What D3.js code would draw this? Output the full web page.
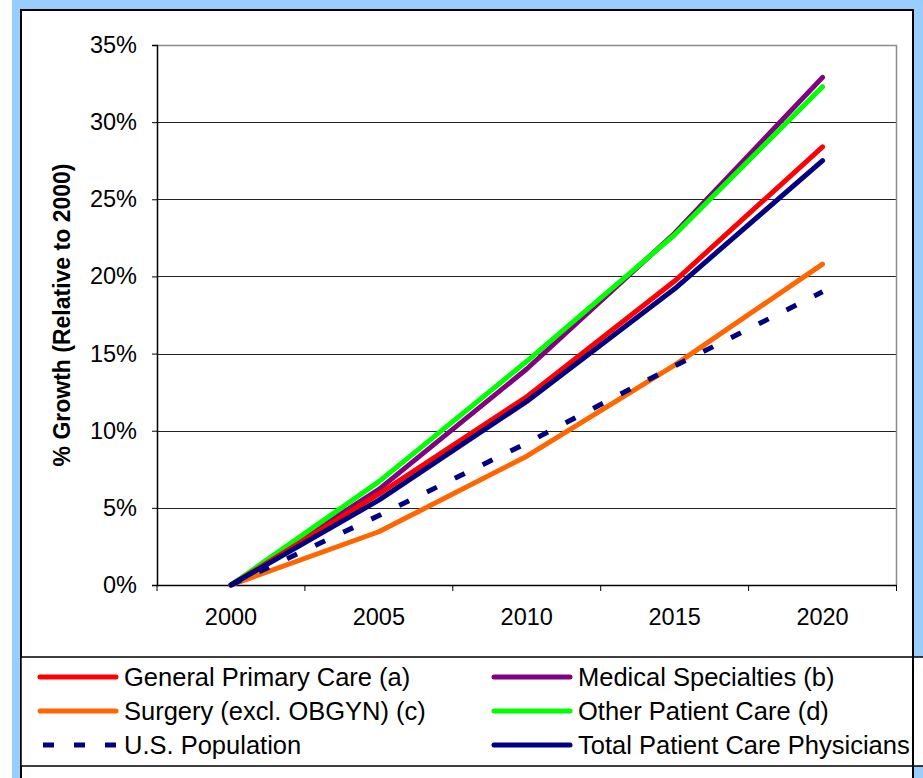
<!DOCTYPE html>
<html>
<head>
<meta charset="utf-8">
<script src="https://cdn.jsdelivr.net/npm/d3@7"></script>
<style>
  body { margin: 0; background: #ffffff; }
  svg { display: block; font-family: "Liberation Sans", Arial, sans-serif; }
</style>
</head>
<body>
<svg id="chart"></svg>
<script>
/*
 *  data (% growth relative to 2000)
 */
var years = ["2000", "2005", "2010", "2015", "2020"];

var generalPrimaryCare = [0, 5.9, 12.2, 19.7, 28.4];
var medicalSpecialties = [0, 6.2, 14.0, 22.8, 32.9];
var surgery            = [0, 3.45, 8.35, 14.25, 20.8];
var otherPatientCare   = [0, 6.7, 14.5, 22.7, 32.3];
var usPopulation       = [0, 4.5, 9.2, 14.2, 19.0];
var totalPhysicians    = [0, 5.5, 11.9, 19.2, 27.5];

var yTicks = [0, 5, 10, 15, 20, 25, 30, 35];

var legendLabels = [
  "General Primary Care (a)", "Medical Specialties (b)",
  "Surgery (excl. OBGYN) (c)", "Other Patient Care (d)",
  "U.S. Population", "Total Patient Care Physicians"
];

// page size
var width = 923,
    height = 778;

// plot area
var plot = {left: 157, right: 896.5, top: 45, bottom: 585};

var svg = d3.select("#chart")
  .attr("width", width)
  .attr("height", height);

// blue frame around the slide, white chart area inside it
svg.append("rect")
  .attr("x", 0).attr("y", 0)
  .attr("width", width).attr("height", height)
  .attr("fill", "#ffffff");
svg.append("rect")
  .attr("x", 12).attr("y", 0)
  .attr("width", width - 12).attr("height", height)
  .attr("fill", "#99ccff");
svg.append("rect")
  .attr("x", 21).attr("y", 10)
  .attr("width", 913 - 21).attr("height", 820)
  .attr("fill", "#ffffff")
  .attr("stroke", "#000")
  .attr("stroke-width", 2);

var x = d3.scaleBand()
  .domain(years)
  .range([plot.left, plot.right]);

var y = d3.scaleLinear()
  .domain([0, 35])
  .range([plot.bottom, plot.top]);

function cx(d) { return x(d) + x.bandwidth() / 2; }

// gridlines
svg.append("g")
  .selectAll("line")
  .data(yTicks.filter(function(t) { return t > 0 && t < 35; }))
  .enter().append("line")
    .attr("x1", plot.left).attr("x2", plot.right)
    .attr("y1", function(d) { return Math.round(y(d)) + 0.5; })
    .attr("y2", function(d) { return Math.round(y(d)) + 0.5; })
    .attr("stroke", "#222")
    .attr("stroke-width", 1);

// plot area border (top and right are grey)
svg.append("path")
  .attr("d", "M" + plot.left + "," + (plot.top + 0.5) + "H" + plot.right + "V" + plot.bottom)
  .attr("fill", "none")
  .attr("stroke", "#8c8c8c")
  .attr("stroke-width", 1.5);

// y axis
var yAxis = svg.append("g")
  .attr("transform", "translate(" + plot.left + ",0)")
  .call(d3.axisLeft(y)
    .tickValues(yTicks)
    .tickSize(5)
    .tickPadding(15)
    .tickFormat(function(d) { return d + "%"; }));
yAxis.select(".domain").attr("stroke", "#000").attr("stroke-width", 1.5);
yAxis.selectAll(".tick line").attr("stroke", "#000");
yAxis.selectAll("text")
  .attr("font-size", 23.5)
  .attr("font-family", "Liberation Sans, Arial, sans-serif")
  .attr("fill", "#000");

// x axis: labels at band centres, ticks on band edges
var xAxis = svg.append("g")
  .attr("transform", "translate(0," + plot.bottom + ")")
  .call(d3.axisBottom(x).tickSize(0).tickPadding(23));
xAxis.select(".domain").attr("stroke", "#000").attr("stroke-width", 1.5);
xAxis.selectAll("text")
  .attr("font-size", 23.5)
  .attr("font-family", "Liberation Sans, Arial, sans-serif")
  .attr("fill", "#000");
xAxis.selectAll(".edge")
  .data(years.map(function(d) { return x(d); }).concat([x.range()[1]]))
  .enter().append("line")
    .attr("class", "edge")
    .attr("x1", function(d) { return d; })
    .attr("x2", function(d) { return d; })
    .attr("y1", 0).attr("y2", 6)
    .attr("stroke", "#000");

// axis title
svg.append("text")
  .attr("transform", "translate(70,315) rotate(-90)")
  .attr("text-anchor", "middle")
  .attr("font-size", 23)
  .attr("font-weight", "bold")
  .text("% Growth (Relative to 2000)");

// series, in drawing order
var series = [
  {name: legendLabels[1], values: medicalSpecialties, color: "#800080", dash: null},
  {name: legendLabels[3], values: otherPatientCare, color: "#00ff00", dash: null},
  {name: legendLabels[0], values: generalPrimaryCare, color: "#ff0000", dash: null},
  {name: legendLabels[2], values: surgery, color: "#ff6600", dash: null},
  {name: legendLabels[4], values: usPopulation, color: "#000080", dash: "11,20"},
  {name: legendLabels[5], values: totalPhysicians, color: "#000080", dash: null}
];

var line = d3.line()
  .x(function(d, i) { return cx(years[i]); })
  .y(function(d) { return y(d); });

svg.append("g")
  .selectAll("path")
  .data(series)
  .enter().append("path")
    .attr("d", function(s) { return line(s.values); })
    .attr("fill", "none")
    .attr("stroke", function(s) { return s.color; })
    .attr("stroke-width", 5)
    .attr("stroke-linecap", function(s) { return s.dash ? "butt" : "round"; })
    .attr("stroke-linejoin", "round")
    .attr("stroke-dasharray", function(s) { return s.dash; });

// legend box
var legendTop = 657, legendBottom = 766;
svg.append("rect")
  .attr("x", 21).attr("y", legendTop)
  .attr("width", width).attr("height", legendBottom - legendTop)
  .attr("fill", "#ffffff")
  .attr("stroke", "#000")
  .attr("stroke-width", 1.5);
svg.append("line")
  .attr("x1", 913).attr("x2", 913)
  .attr("y1", 10).attr("y2", height)
  .attr("stroke", "#000")
  .attr("stroke-width", 2);

var byLabel = {};
series.forEach(function(s) { byLabel[s.name] = s; });

var rowY = [677, 711, 745];
var colX = [40, 494];

var item = svg.append("g")
  .selectAll("g")
  .data(legendLabels)
  .enter().append("g")
    .attr("transform", function(d, i) {
      return "translate(" + colX[i % 2] + "," + rowY[Math.floor(i / 2)] + ")";
    });

item.append("line")
  .attr("x1", function(d) { return byLabel[d].dash ? 3 : 0; })
  .attr("x2", 76)
  .attr("y1", 0).attr("y2", 0)
  .attr("stroke", function(d) { return byLabel[d].color; })
  .attr("stroke-width", 5)
  .attr("stroke-linecap", function(d) { return byLabel[d].dash ? "butt" : "round"; })
  .attr("stroke-dasharray", function(d) { return byLabel[d].dash; });

item.append("text")
  .attr("x", 84)
  .attr("y", 9)
  .attr("font-size", 25.5)
  .text(function(d) { return d; });
</script>
</body>
</html>
